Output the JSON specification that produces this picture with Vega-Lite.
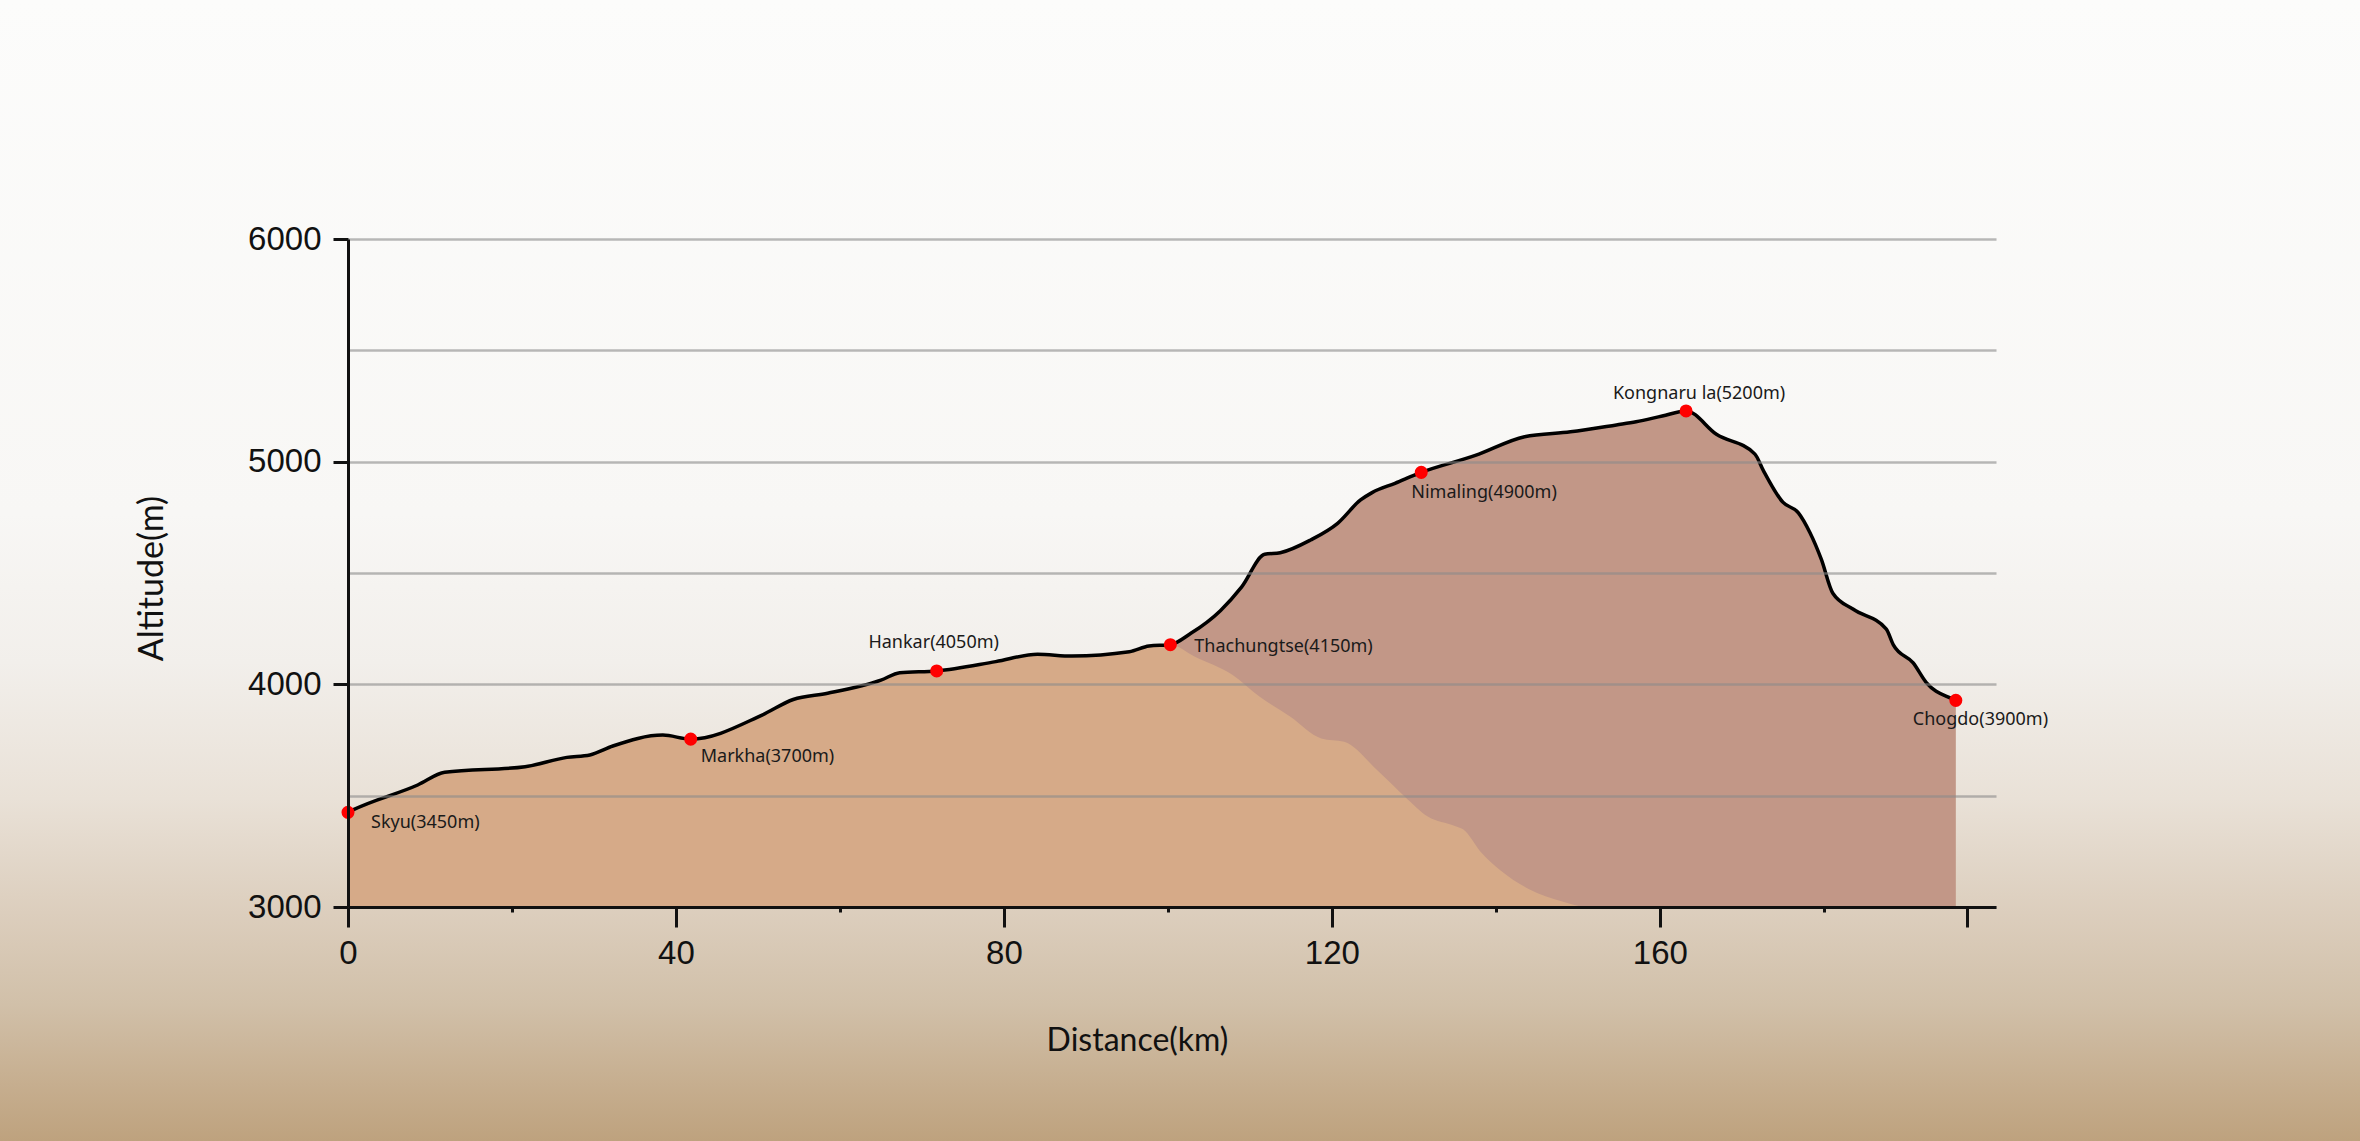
{
  "$schema": "https://vega.github.io/schema/vega-lite/v6.json",
  "width": 1648,
  "height": 668,
  "autosize": {"type": "none"},
  "padding": {"left": 348, "top": 239, "right": 364, "bottom": 234},
  "background": "#fbfbfa",
  "datasets": {
    "trail": [
      {"km": 0, "alt": 3425}, {"km": 0.6, "alt": 3436}, {"km": 8.5, "alt": 3548}, {"km": 11.8, "alt": 3605},
      {"km": 21.6, "alt": 3630}, {"km": 26.7, "alt": 3672}, {"km": 29.5, "alt": 3683}, {"km": 32.3, "alt": 3723},
      {"km": 38.4, "alt": 3772}, {"km": 41.8, "alt": 3754}, {"km": 50.5, "alt": 3862}, {"km": 54.3, "alt": 3932},
      {"km": 58.5, "alt": 3960}, {"km": 65.0, "alt": 4019}, {"km": 67.3, "alt": 4052}, {"km": 71.8, "alt": 4060},
      {"km": 79.0, "alt": 4102}, {"km": 84.1, "alt": 4135}, {"km": 88.3, "alt": 4127}, {"km": 95.3, "alt": 4146},
      {"km": 97.7, "alt": 4172}, {"km": 100.3, "alt": 4178}, {"km": 102.8, "alt": 4229}, {"km": 106.4, "alt": 4331},
      {"km": 109.0, "alt": 4438}, {"km": 111.8, "alt": 4584}, {"km": 113.7, "alt": 4591}, {"km": 117.4, "alt": 4648},
      {"km": 120.7, "alt": 4723}, {"km": 123.5, "alt": 4828}, {"km": 124.9, "alt": 4861}, {"km": 127.7, "alt": 4903},
      {"km": 130.9, "alt": 4952}, {"km": 137.5, "alt": 5028}, {"km": 143.5, "alt": 5112}, {"km": 149.1, "alt": 5134},
      {"km": 154.7, "alt": 5165}, {"km": 157.1, "alt": 5179}, {"km": 160.3, "alt": 5205}, {"km": 163.2, "alt": 5228},
      {"km": 166.9, "alt": 5123}, {"km": 171.6, "alt": 5034}, {"km": 172.6, "alt": 4962}, {"km": 175.0, "alt": 4818},
      {"km": 176.9, "alt": 4770}, {"km": 178.3, "alt": 4682}, {"km": 179.7, "alt": 4561}, {"km": 181.1, "alt": 4409},
      {"km": 183.6, "alt": 4337}, {"km": 187.6, "alt": 4249}, {"km": 188.5, "alt": 4176}, {"km": 190.9, "alt": 4096},
      {"km": 192.5, "alt": 4008}, {"km": 195.4, "alt": 3939}, {"km": 196.1, "alt": 3928}
    ],
    "sand": [
      {"km": 0, "alt": 3425}, {"km": 0.6, "alt": 3436}, {"km": 8.5, "alt": 3548}, {"km": 11.8, "alt": 3605},
      {"km": 21.6, "alt": 3630}, {"km": 26.7, "alt": 3672}, {"km": 29.5, "alt": 3683}, {"km": 32.3, "alt": 3723},
      {"km": 38.4, "alt": 3772}, {"km": 41.8, "alt": 3754}, {"km": 50.5, "alt": 3862}, {"km": 54.3, "alt": 3932},
      {"km": 58.5, "alt": 3960}, {"km": 65.0, "alt": 4019}, {"km": 67.3, "alt": 4052}, {"km": 71.8, "alt": 4060},
      {"km": 79.0, "alt": 4102}, {"km": 84.1, "alt": 4135}, {"km": 88.3, "alt": 4127}, {"km": 95.3, "alt": 4146},
      {"km": 97.7, "alt": 4172}, {"km": 100.3, "alt": 4178}, {"km": 103.3, "alt": 4124}, {"km": 107.9, "alt": 4042},
      {"km": 111.2, "alt": 3944}, {"km": 114.9, "alt": 3855}, {"km": 118.7, "alt": 3757}, {"km": 121.5, "alt": 3742},
      {"km": 125.7, "alt": 3608}, {"km": 128.9, "alt": 3495}, {"km": 131.7, "alt": 3406}, {"km": 135.0, "alt": 3364},
      {"km": 136.0, "alt": 3349}, {"km": 138.3, "alt": 3241}, {"km": 140.5, "alt": 3166}, {"km": 144.0, "alt": 3081},
      {"km": 148.1, "alt": 3025}, {"km": 150.6, "alt": 3000}
    ],
    "stops": [
      {"name": "Skyu", "label": "Skyu(3450m)", "km": 0, "alt": 3425},
      {"name": "Markha", "label": "Markha(3700m)", "km": 41.8, "alt": 3754},
      {"name": "Hankar", "label": "Hankar(4050m)", "km": 71.8, "alt": 4060},
      {"name": "Thachungtse", "label": "Thachungtse(4150m)", "km": 100.3, "alt": 4178},
      {"name": "Nimaling", "label": "Nimaling(4900m)", "km": 130.9, "alt": 4952},
      {"name": "Kongnaru la", "label": "Kongnaru la(5200m)", "km": 163.2, "alt": 5228},
      {"name": "Chogdo", "label": "Chogdo(3900m)", "km": 196.1, "alt": 3928}
    ]
  },
  "layer": [
    {
      "data": {"values": [{}]},
      "mark": {
        "type": "rect",
        "color": {
          "gradient": "linear", "x1": 0, "y1": 0, "x2": 0, "y2": 1,
          "stops": [
            {"offset": 0, "color": "#fcfcfb"},
            {"offset": 0.45, "color": "#f8f7f5"},
            {"offset": 0.58, "color": "#f2efeb"},
            {"offset": 0.7, "color": "#e9e1d7"},
            {"offset": 0.8, "color": "#dccebd"},
            {"offset": 0.88, "color": "#d1c0a9"},
            {"offset": 0.95, "color": "#c6ae8f"},
            {"offset": 1, "color": "#bea27e"}
          ]
        }
      },
      "encoding": {
        "x": {
          "datum": -42.5,
          "type": "quantitative",
          "scale": {"domain": [0, 201], "nice": false, "zero": false},
          "axis": {
            "title": "Distance(km)",
            "values": [0, 20, 40, 60, 80, 100, 120, 140, 160, 180, 197.5],
            "labelExpr": "(datum.value % 40 === 0 && datum.value <= 160) ? datum.label : ''",
            "format": "d",
            "labelFlush": false,
            "labelOverlap": false,
            "grid": false,
            "zindex": 1,
            "domainColor": "#111",
            "domainWidth": 3,
            "tickColor": "#111",
            "tickWidth": 3,
            "tickSize": {"condition": {"test": "datum.value % 40 === 0 || datum.value > 190", "value": 20}, "value": 5},
            "labelFont": "Liberation Sans",
            "labelFontSize": 33,
            "labelColor": "#111",
            "labelPadding": 10,
            "titleFont": "Lato",
            "titleFontSize": 32,
            "titleFontWeight": "normal",
            "titleColor": "#111",
            "titleX": 789,
            "titleY": 118,
            "titleAlign": "center",
            "titleBaseline": "top"
          }
        },
        "x2": {"datum": 245.4},
        "y": {
          "datum": 7073,
          "type": "quantitative",
          "scale": {"domain": [3000, 6000], "nice": false, "zero": false},
          "axis": {
            "title": "Altitude(m)",
            "values": [3000, 3500, 4000, 4500, 5000, 5500, 6000],
            "labelExpr": "datum.value % 1000 === 0 ? datum.label : ''",
            "format": "d",
            "labelFlush": false,
            "labelOverlap": false,
            "grid": true,
            "gridColor": "#8a8a8a",
            "gridOpacity": 0.6,
            "gridWidth": 2.5,
            "zindex": 1,
            "domainColor": "#111",
            "domainWidth": 3,
            "tickColor": "#111",
            "tickWidth": 3,
            "tickOpacity": {"condition": {"test": "datum.value % 1000 === 0", "value": 1}, "value": 0},
            "tickSize": 15,
            "labelFont": "Liberation Sans",
            "labelFontSize": 33,
            "labelColor": "#111",
            "labelPadding": 12,
            "titleFont": "Lato",
            "titleFontSize": 34,
            "titleFontWeight": "normal",
            "titleColor": "#111",
            "titleAngle": -90,
            "titleX": -196,
            "titleY": 339,
            "titleAlign": "center",
            "titleBaseline": "middle"
          }
        },
        "y2": {"datum": 1949}
      }
    },
    {
      "data": {"name": "trail"},
      "mark": {"type": "area", "color": "#c29787", "interpolate": "monotone"},
      "encoding": {
        "x": {"field": "km", "type": "quantitative"},
        "y": {"field": "alt", "type": "quantitative"},
        "y2": {"datum": 3000}
      }
    },
    {
      "data": {"name": "sand"},
      "mark": {"type": "area", "color": "#d6aa88", "interpolate": "monotone"},
      "encoding": {
        "x": {"field": "km", "type": "quantitative"},
        "y": {"field": "alt", "type": "quantitative"},
        "y2": {"datum": 3000}
      }
    },
    {
      "data": {"name": "trail"},
      "mark": {"type": "line", "color": "#000000", "strokeWidth": 3.5, "interpolate": "monotone"},
      "encoding": {
        "x": {"field": "km", "type": "quantitative"},
        "y": {"field": "alt", "type": "quantitative"}
      }
    },
    {
      "data": {"name": "stops"},
      "mark": {"type": "circle", "color": "#ff0000", "opacity": 1, "size": 170},
      "encoding": {
        "x": {"field": "km", "type": "quantitative"},
        "y": {"field": "alt", "type": "quantitative"}
      }
    },
    {
      "data": {"name": "stops"},
      "transform": [{"filter": "datum.name === 'Skyu'"}],
      "mark": {"type": "text", "font": "Noto Sans", "fontSize": 18, "color": "#1a1a1a", "align": "left", "baseline": "middle", "dx": 23, "dy": 11},
      "encoding": {"x": {"field": "km", "type": "quantitative"}, "y": {"field": "alt", "type": "quantitative"}, "text": {"field": "label"}}
    },
    {
      "data": {"name": "stops"},
      "transform": [{"filter": "datum.name === 'Markha'"}],
      "mark": {"type": "text", "font": "Noto Sans", "fontSize": 18, "color": "#1a1a1a", "align": "left", "baseline": "middle", "dx": 10, "dy": 18},
      "encoding": {"x": {"field": "km", "type": "quantitative"}, "y": {"field": "alt", "type": "quantitative"}, "text": {"field": "label"}}
    },
    {
      "data": {"name": "stops"},
      "transform": [{"filter": "datum.name === 'Hankar'"}],
      "mark": {"type": "text", "font": "Noto Sans", "fontSize": 18, "color": "#1a1a1a", "align": "center", "baseline": "middle", "dx": -3, "dy": -28},
      "encoding": {"x": {"field": "km", "type": "quantitative"}, "y": {"field": "alt", "type": "quantitative"}, "text": {"field": "label"}}
    },
    {
      "data": {"name": "stops"},
      "transform": [{"filter": "datum.name === 'Thachungtse'"}],
      "mark": {"type": "text", "font": "Noto Sans", "fontSize": 18, "color": "#1a1a1a", "align": "left", "baseline": "middle", "dx": 24, "dy": 2},
      "encoding": {"x": {"field": "km", "type": "quantitative"}, "y": {"field": "alt", "type": "quantitative"}, "text": {"field": "label"}}
    },
    {
      "data": {"name": "stops"},
      "transform": [{"filter": "datum.name === 'Nimaling'"}],
      "mark": {"type": "text", "font": "Noto Sans", "fontSize": 18, "color": "#1a1a1a", "align": "left", "baseline": "middle", "dx": -10, "dy": 21},
      "encoding": {"x": {"field": "km", "type": "quantitative"}, "y": {"field": "alt", "type": "quantitative"}, "text": {"field": "label"}}
    },
    {
      "data": {"name": "stops"},
      "transform": [{"filter": "datum.name === 'Kongnaru la'"}],
      "mark": {"type": "text", "font": "Noto Sans", "fontSize": 18, "color": "#1a1a1a", "align": "center", "baseline": "middle", "dx": 13, "dy": -17},
      "encoding": {"x": {"field": "km", "type": "quantitative"}, "y": {"field": "alt", "type": "quantitative"}, "text": {"field": "label"}}
    },
    {
      "data": {"name": "stops"},
      "transform": [{"filter": "datum.name === 'Chogdo'"}],
      "mark": {"type": "text", "font": "Noto Sans", "fontSize": 18, "color": "#1a1a1a", "align": "left", "baseline": "middle", "dx": -43, "dy": 20},
      "encoding": {"x": {"field": "km", "type": "quantitative"}, "y": {"field": "alt", "type": "quantitative"}, "text": {"field": "label"}}
    }
  ],
  "config": {
    "view": {"stroke": null}
  }
}
